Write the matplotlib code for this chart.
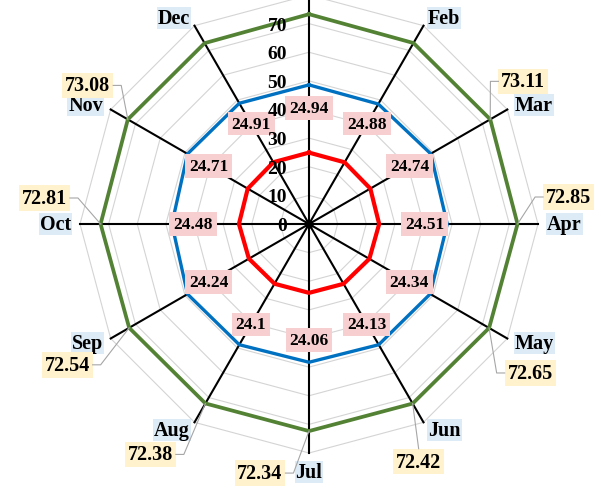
import numpy as np
import matplotlib
matplotlib.use("Agg")
import matplotlib.pyplot as plt
from matplotlib.lines import Line2D

# Monthly values
months = ["Jan", "Feb", "Mar", "Apr", "May", "Jun",
          "Jul", "Aug", "Sep", "Oct", "Nov", "Dec"]
red_vals = [24.94, 24.88, 24.74, 24.51, 24.34, 24.13,
            24.06, 24.10, 24.24, 24.48, 24.71, 24.91]
blue_vals = [48.6, 48.4, 49.1, 48.3, 48.9, 48.7,
             48.3, 48.7, 49.0, 47.9, 49.0, 48.7]
green_vals = [73.3, 73.0, 73.11, 72.85, 72.65, 72.42,
              72.34, 72.38, 72.54, 72.81, 73.08, 72.95]
r_ticks = [0, 10, 20, 30, 40, 50, 60, 70]
r_rings = [10, 20, 30, 40, 50, 60, 70, 80]
r_max = 80

# Placement of the total labels (pixel offsets from each vertex)
total_label_offsets = {
    "Mar": (33, 38), "Apr": (51, 27), "May": (41, -45),
    "Jun": (6, -58), "Jul": (-49, -42), "Aug": (-55, -51),
    "Sep": (-62, -37), "Oct": (-56, 26), "Nov": (-40, 34),
}

FONT = "Liberation Serif"
RED = "#FF0000"
BLUE = "#0070C0"
GREEN = "#548235"
PINK = "#F8CFD0"
GOLD = "#FFF2CC"
LIGHTBLUE = "#DDEBF7"

W, H = 601, 489
fig = plt.figure(figsize=(W / 100, H / 100), dpi=100)
cx, cy, R = 309, 264, 229
ax = fig.add_axes([(cx - R) / W, (cy - R) / H, 2 * R / W, 2 * R / H],
                  projection="polar")
ax.set_theta_zero_location("N")
ax.set_theta_direction(-1)
ax.set_ylim(0, r_max)
ax.grid(False)
ax.set_xticks([])
ax.set_yticks([])
ax.spines["polar"].set_visible(False)

n = len(months)
theta = np.arange(n) * 2 * np.pi / n
theta_c = np.append(theta, theta[0])

def closed(v):
    return np.append(v, v[0])

# polygon grid rings
for r in r_rings:
    ax.plot(theta_c, [r] * (n + 1), color="#D4D4D4", lw=0.8, zorder=1,
            clip_on=False)

# black spokes
for t in theta:
    ax.plot([t, t], [0, r_max], color="black", lw=1.5, zorder=2, clip_on=False)
ax.plot([0], [0], "o", color="black", ms=5, zorder=6)

# series
ax.plot(theta_c, closed(red_vals), color=RED, lw=3.0, zorder=4)
ax.plot(theta_c, closed(blue_vals), color=BLUE, lw=2.4, zorder=4)
ax.plot(theta_c, closed(green_vals), color=GREEN, lw=2.7, zorder=4)

# radial tick labels along the Jan spoke
for v in r_ticks:
    ax.annotate(str(v), xy=(0, v), xytext=(-22, -1.5), textcoords="offset pixels",
                ha="right", va="center", fontsize=14, fontweight="bold",
                family=FONT, zorder=8)

# value labels of the red series
for t, v in zip(theta, red_vals):
    ax.text(t, 40.5, f"{v:g}", ha="center", va="center", fontsize=12.5,
            fontweight="bold", family=FONT, zorder=7,
            bbox=dict(boxstyle="square,pad=0.22", fc=PINK, ec="none"))

# month labels beyond the spoke ends
for i, (t, m) in enumerate(zip(theta, months)):
    if i == 0:
        continue
    s, c = np.sin(t), np.cos(t)
    ha = "left" if s > 0.01 else ("right" if s < -0.01 else "center")
    va = "center" if abs(c) < 0.99 else ("top" if c < 0 else "bottom")
    ax.annotate(m, xy=(t, r_max), xytext=(9 * s, 9 * c),
                textcoords="offset pixels", ha=ha, va=va, fontsize=14.5,
                fontweight="bold", family=FONT, zorder=7,
                bbox=dict(boxstyle="square,pad=0.05", fc=LIGHTBLUE, ec="none"))

# total labels with leader lines
labels = []
for t, m, v in zip(theta, months, green_vals):
    if m not in total_label_offsets:
        continue
    dx, dy = total_label_offsets[m]
    txt = ax.annotate(f"{v:.2f}", xy=(t, v), xytext=(dx, dy),
                      textcoords="offset pixels", ha="center", va="center",
                      fontsize=14.5, fontweight="bold", family=FONT, zorder=7,
                      bbox=dict(boxstyle="square,pad=0.14", fc=GOLD, ec="none"))
    labels.append((t, v, txt))

fig.canvas.draw()
renderer = fig.canvas.get_renderer()
inv = fig.transFigure.inverted()
for t, v, txt in labels:
    px, py = ax.transData.transform((t, v))
    bb = txt.get_bbox_patch().get_window_extent(renderer)
    lx, ly = (bb.x0 + bb.x1) / 2, (bb.y0 + bb.y1) / 2
    half = (bb.x1 - bb.x0) / 2
    if lx < px - half:
        pts = [(px, py), (bb.x1 + 8, ly), (bb.x1, ly)]
    elif lx > px + half:
        pts = [(px, py), (bb.x0 - 8, ly), (bb.x0, ly)]
    else:
        edge = bb.y1 if ly < py else bb.y0
        pts = [(px, py), (lx, edge)]
    fpts = inv.transform(pts)
    fig.add_artist(Line2D(fpts[:, 0], fpts[:, 1], color="#A6A6A6", lw=0.8,
                          transform=fig.transFigure, zorder=3))

fig.savefig("out.png", dpi=100, facecolor="white")
